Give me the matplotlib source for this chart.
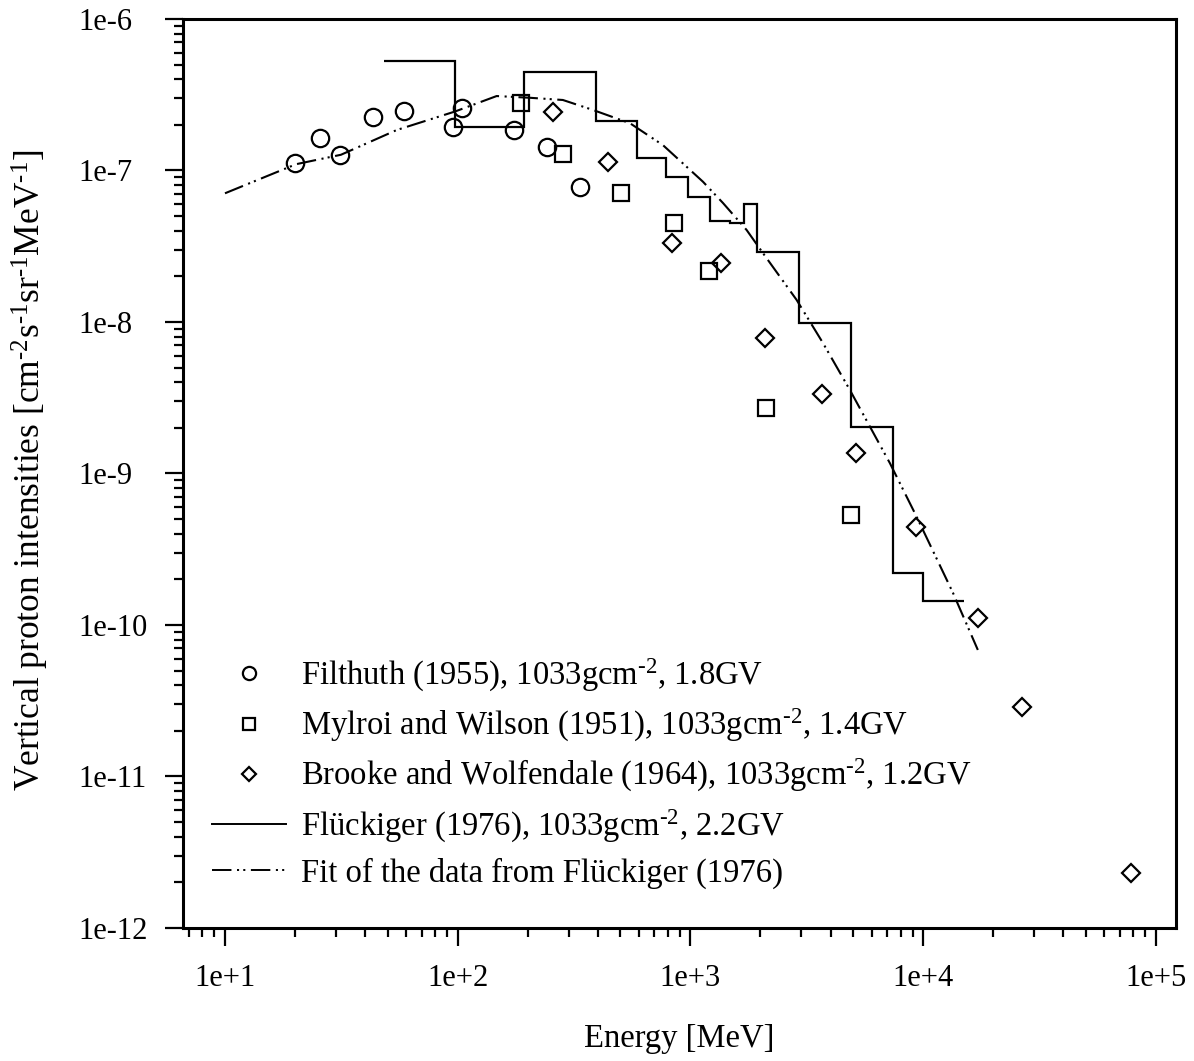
"""Vertical proton intensities at sea level vs energy (log-log), measured data + Flückiger fit."""
import matplotlib
matplotlib.use("Agg")
import matplotlib.pyplot as plt
from matplotlib.lines import Line2D
from matplotlib.ticker import FixedLocator, FuncFormatter, LogLocator, NullFormatter
import numpy as np

plt.rcParams.update({
    "font.family": ["Liberation Serif", "DejaVu Serif"],
    "mathtext.fontset": "custom",
    "mathtext.rm": "Liberation Serif",
    "mathtext.it": "Liberation Serif:italic",
    "mathtext.bf": "Liberation Serif:bold",
    "lines.scale_dashes": False,
})

# Filthuth (1955)
filthuth_e = [20.0, 25.6, 31.2, 43.3, 58.7, 95.5, 104, 175, 242, 335]
filthuth_i = [1.12e-7, 1.64e-7, 1.27e-7, 2.26e-7, 2.47e-7, 1.94e-7, 2.59e-7,
              1.85e-7, 1.43e-7, 7.8e-8]

# Mylroi and Wilson (1951)
mylroi_e = [187, 284, 502, 847, 1197, 2104, 4877]
mylroi_i = [2.80e-7, 1.28e-7, 7.14e-8, 4.52e-8, 2.18e-8, 2.72e-9, 5.30e-10]

# Brooke and Wolfendale (1964)
brooke_e = [256, 442, 835, 1349, 2085, 3664, 5140, 9290, 17140, 26700, 77800]
brooke_i = [2.42e-7, 1.14e-7, 3.31e-8, 2.44e-8, 7.84e-9, 3.35e-9, 1.37e-9,
            4.41e-10, 1.12e-10, 2.86e-11, 2.30e-12]

# Flückiger (1976) histogram
flueck_edges = [48, 97, 193, 392, 588, 782, 972, 1213, 1480, 1703, 1925,
                2924, 4877, 7390, 10000, 15000]
flueck_i = [5.31e-7, 1.94e-7, 4.45e-7, 2.12e-7, 1.21e-7, 9.06e-8, 6.68e-8,
            4.67e-8, 4.47e-8, 5.98e-8, 2.88e-8, 9.80e-9, 2.02e-9, 2.21e-10,
            1.45e-10]

# fit of the Flückiger data
fit_e = [10, 20.2, 31.5, 54.7, 97.3, 147, 204, 283, 381, 550, 762, 1132,
         1380, 1743, 2049, 2858, 3710, 4842, 7195, 9370, 13430, 17180]
fit_i = [7.07e-8, 1.10e-7, 1.27e-7, 1.85e-7, 2.45e-7, 3.10e-7, 3.02e-7,
         2.92e-7, 2.51e-7, 2.05e-7, 1.47e-7, 8.43e-8, 6.10e-8, 4.05e-8,
         2.85e-8, 1.40e-8, 7.27e-9, 3.56e-9, 1.17e-9, 5.19e-10, 1.63e-10,
         6.84e-11]

# decades with labels
x_decades = [1, 2, 3, 4, 5]
y_decades = [-12, -11, -10, -9, -8, -7, -6]

labels = [
    r"Filthuth (1955), 1033gcm$^{\text{-2}}$, 1.8GV",
    r"Mylroi and Wilson (1951), 1033gcm$^{\text{-2}}$, 1.4GV",
    r"Brooke and Wolfendale (1964), 1033gcm$^{\text{-2}}$, 1.2GV",
    r"Flückiger (1976), 1033gcm$^{\text{-2}}$, 2.2GV",
    "Fit of the data from Flückiger (1976)",
]

FS = 22      # tick labels
FS_TXT = 23.5  # legend, axis titles
FIT_DASH = (14, 4, 1.5, 3, 1.5, 4)
mk = dict(ls="none", mfc="none", mec="k", mew=1.6)

fig = plt.figure(figsize=(11.94, 10.61), dpi=100)
ax = fig.add_axes([0.1530, 0.1254, 0.8319, 0.8567])

ax.stairs(flueck_i, flueck_edges, baseline=None, color="k", lw=1.6)
ax.plot(fit_e, fit_i, color="k", lw=1.5, dashes=FIT_DASH)
ax.plot(filthuth_e, filthuth_i, marker="o", ms=12.5, **mk)
ax.plot(mylroi_e, mylroi_i, marker="s", ms=11, **mk)
ax.plot(brooke_e, brooke_i, marker="D", ms=9.5, **mk)

ax.set_xscale("log")
ax.set_yscale("log")
ax.set_xlim(6.58, 1.22e5)
ax.set_ylim(1e-12, 1e-6)

fmt = FuncFormatter(lambda v, _: f"1e{int(round(np.log10(v))):+d}")
for a, dec in ((ax.xaxis, x_decades), (ax.yaxis, y_decades)):
    a.set_major_locator(FixedLocator([10.0 ** k for k in dec]))
    a.set_minor_locator(LogLocator(base=10, subs=np.arange(2, 10), numticks=20))
    a.set_major_formatter(fmt)
    a.set_minor_formatter(NullFormatter())

for s in ax.spines.values():
    s.set_linewidth(2.2)
ax.tick_params(which="both", direction="out", top=False, right=False,
               labelsize=FS, width=1.6)
ax.tick_params(which="major", length=13)
ax.tick_params(which="minor", length=6.5)
ax.tick_params(axis="x", which="major", pad=13)
ax.tick_params(axis="y", which="major", pad=62)
for lab in ax.get_yticklabels():
    lab.set_horizontalalignment("left")

fig.text(30 / 1194, 1 - 470 / 1061,
         r"Vertical proton intensities [cm$^{\text{-2}}$s$^{\text{-1}}$sr$^{\text{-1}}$MeV$^{\text{-1}}$]",
         rotation=90, ha="center", va="center", fontsize=25.5)
fig.text(679 / 1194, 1 - 1039 / 1061, "Energy [MeV]",
         ha="center", va="center", fontsize=FS_TXT)

handles = [
    Line2D([], [], marker="o", ms=9.5, **mk),
    Line2D([], [], marker="s", ms=8.5, **mk),
    Line2D([], [], marker="D", ms=7.5, **mk),
    Line2D([], [], color="k", lw=1.4),
    Line2D([], [], color="k", lw=1.4, dashes=FIT_DASH),
]
ax.legend(handles, labels, loc="upper left", bbox_to_anchor=(0.03, 0.298),
          frameon=False, fontsize=FS_TXT, handlelength=2.24, handletextpad=0.46,
          labelspacing=0.40, borderpad=0, borderaxespad=0)

fig.savefig("out.png", dpi=100)
